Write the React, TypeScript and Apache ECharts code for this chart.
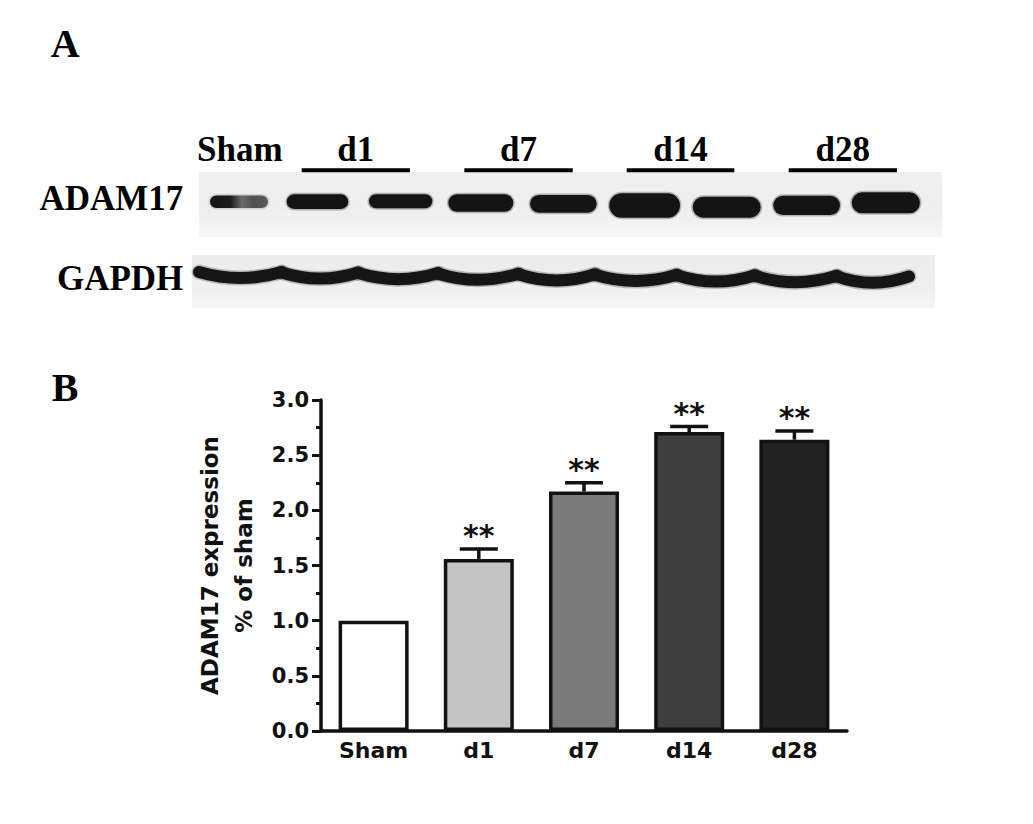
import React, { useEffect, useRef } from "react";
import * as echarts from "echarts";

// ---------- Panel B data ----------
const categories = ["Sham", "d1", "d7", "d14", "d28"];
const expression = [1.0, 1.56, 2.17, 2.71, 2.64];
const sem = [0, 0.09, 0.08, 0.05, 0.08];
const significance = ["", "**", "**", "**", "**"];
const barColors = ["#ffffff", "#c4c4c4", "#7a7a7a", "#3e3e3e", "#222222"];
const yMin = 0;
const yMax = 3;
const yInterval = 0.5;

// ---------- Panel A (blot) labels ----------
const blotRows = ["ADAM17", "GAPDH"];
const laneGroups = ["d1", "d7", "d14", "d28"];

// blot layout (image geometry, not data)
const groupBars = [
  [301.7, 410],
  [464.3, 572.7],
  [626.7, 734.3],
  [788.7, 897],
];
const adamBands = [
  [210, 268, 195.5, 208],
  [286.7, 348.3, 194.3, 209],
  [369, 432.3, 194.3, 208.3],
  [448.3, 513.3, 194.3, 211.7],
  [530, 596.7, 195, 212.7],
  [609.3, 680, 193.3, 217.7],
  [692.7, 760.7, 196.7, 217.7],
  [773.3, 840, 195.7, 215],
  [851.7, 920, 192.3, 213.3],
];
const gapdhBounds = [199, 281.7, 358.3, 438.3, 518.3, 595, 676.7, 755, 836.7, 909];

const SERIF = "'Liberation Serif', 'Times New Roman', serif";
const SANS = "'DejaVu Sans', Arial, sans-serif";

function serifText(text: string, x: number, y: number, size: number, align: string) {
  return {
    type: "text",
    x,
    y,
    z: 20,
    silent: true,
    style: {
      text,
      font: `bold ${size}px ${SERIF}`,
      fill: "#000",
      textAlign: align,
      align,
      textVerticalAlign: "middle",
      verticalAlign: "middle",
    },
  };
}

function buildBlotGraphics() {
  const els: any[] = [];
  // panel letters
  els.push(serifText("A", 50.7, 43.3, 40, "left"));
  els.push(serifText("B", 51.7, 387.3, 40, "left"));
  // blot backgrounds
  els.push({
    type: "rect",
    z: 1,
    silent: true,
    shape: { x: 199, y: 172, width: 743, height: 65 },
    style: {
      fill: new echarts.graphic.LinearGradient(0, 0, 0, 1, [
        { offset: 0, color: "#efefef" },
        { offset: 0.6, color: "#eeeeee" },
        { offset: 1, color: "#f7f7f7" },
      ]),
    },
  });
  els.push({
    type: "rect",
    z: 1,
    silent: true,
    shape: { x: 192, y: 255, width: 743, height: 53 },
    style: {
      fill: new echarts.graphic.LinearGradient(0, 0, 0, 1, [
        { offset: 0, color: "#ececec" },
        { offset: 0.6, color: "#efefef" },
        { offset: 1, color: "#f6f6f6" },
      ]),
    },
  });
  // row labels
  els.push(serifText(blotRows[0], 183.3, 198.7, 35, "right"));
  els.push(serifText(blotRows[1], 183.3, 278.3, 35, "right"));
  // lane header
  els.push(serifText("Sham", 197, 149.5, 35, "left"));
  laneGroups.forEach((g, i) => {
    const [a, b] = groupBars[i];
    els.push(serifText(g, (a + b) / 2, 149.5, 35, "center"));
    els.push({
      type: "rect",
      z: 10,
      silent: true,
      shape: { x: a, y: 168.3, width: b - a, height: 4 },
      style: { fill: "#000" },
    });
  });
  // ADAM17 bands: soft halo + dark core
  adamBands.forEach(([x0, x1, y0, y1], i) => {
    const h = y1 - y0;
    els.push({
      type: "rect",
      z: 4,
      silent: true,
      shape: { x: x0 - 1.5, y: y0 - 1.5, width: x1 - x0 + 3, height: h + 3, r: (h + 3) / 2 },
      style: { fill: i === 0 ? "rgba(0,0,0,0.12)" : "rgba(0,0,0,0.25)" },
    });
    const fill =
      i === 0
        ? new echarts.graphic.LinearGradient(0, 0, 1, 0, [
            { offset: 0, color: "#151515" },
            { offset: 0.35, color: "#1c1c1c" },
            { offset: 0.55, color: "#6a6a6a" },
            { offset: 0.75, color: "#4e4e4e" },
            { offset: 1, color: "#5a5a5a" },
          ])
        : "#141414";
    els.push({
      type: "rect",
      z: 5,
      silent: true,
      shape: { x: x0, y: y0, width: x1 - x0, height: h, r: h / 2 },
      style: { fill },
    });
  });
  // GAPDH band (arched lane segments)
  for (let i = 0; i < gapdhBounds.length - 1; i++) {
    const x1 = gapdhBounds[i];
    const x2 = gapdhBounds[i + 1];
    const endY = 272 + i * 0.55;
    const midY = 278 + i * 0.6;
    const shape = { x1, y1: endY, x2, y2: endY, cpx1: (x1 + x2) / 2, cpy1: 2 * midY - endY };
    els.push({
      type: "bezierCurve",
      z: 4,
      silent: true,
      shape,
      style: { stroke: "rgba(0,0,0,0.22)", lineWidth: 15, lineCap: "round", fill: null },
    });
    els.push({
      type: "bezierCurve",
      z: 5,
      silent: true,
      shape,
      style: { stroke: "#151515", lineWidth: 12, lineCap: "round", fill: null },
    });
  }
  return els;
}

export default function App() {
  const ref = useRef<HTMLDivElement>(null);
  useEffect(() => {
    const chart = echarts.init(ref.current!, null, { renderer: "svg" });
    const option: any = {
      animation: false,
      backgroundColor: "#ffffff",
      graphic: { elements: buildBlotGraphics() },
      grid: { left: 321, top: 400, width: 526, height: 331, containLabel: false },
      xAxis: {
        type: "category",
        data: categories,
        axisLine: { show: true, lineStyle: { color: "#111", width: 3.5 } },
        axisTick: { show: false },
        axisLabel: {
          color: "#111",
          fontFamily: SANS,
          fontWeight: "bold",
          fontSize: 22,
          margin: 8,
        },
        splitLine: { show: false },
      },
      yAxis: {
        type: "value",
        min: yMin,
        max: yMax,
        interval: yInterval,
        name: "ADAM17 expression\n% of sham",
        nameLocation: "middle",
        nameRotate: 90,
        nameGap: 60,
        nameTextStyle: {
          color: "#111",
          fontFamily: SANS,
          fontWeight: "bold",
          fontSize: 23,
          lineHeight: 34,
        },
        axisLine: { show: true, lineStyle: { color: "#111", width: 3.5 } },
        axisTick: { show: true, length: 9, lineStyle: { color: "#111", width: 3 } },
        minorTick: { show: true, splitNumber: 2, length: 5, lineStyle: { color: "#111", width: 3 } },
        axisLabel: {
          color: "#111",
          fontFamily: SANS,
          fontWeight: "bold",
          fontSize: 21,
          margin: 12,
          formatter: (v: number) => v.toFixed(1),
        },
        splitLine: { show: false },
        minorSplitLine: { show: false },
      },
      series: [
        {
          type: "bar",
          barWidth: 70,
          data: expression.map((v, i) => ({ value: v, itemStyle: { color: barColors[i] } })),
          itemStyle: { borderColor: "#111", borderWidth: 3.5 },
          z: 2,
        },
        {
          type: "custom",
          z: 5,
          data: expression.map((v, i) => [i, v, sem[i]]),
          renderItem: (params: any, api: any) => {
            const i = api.value(0);
            const v = api.value(1);
            const e = api.value(2);
            const top = api.coord([i, v]);
            const hi = api.coord([i, v + e]);
            const children: any[] = [];
            const capHalf = 19;
            if (e > 0) {
              children.push({
                type: "line",
                shape: { x1: top[0], y1: top[1], x2: hi[0], y2: hi[1] },
                style: { stroke: "#111", lineWidth: 3.5 },
              });
              children.push({
                type: "line",
                shape: { x1: hi[0] - capHalf, y1: hi[1], x2: hi[0] + capHalf, y2: hi[1] },
                style: { stroke: "#111", lineWidth: 3.5 },
              });
            }
            const sig = significance[params.dataIndex];
            if (sig) {
              children.push({
                type: "text",
                x: hi[0],
                y: hi[1] - 13,
                style: {
                  text: sig,
                  font: `bold 30px ${SANS}`,
                  fill: "#111",
                  textAlign: "center",
                  align: "center",
                  textVerticalAlign: "middle",
                  verticalAlign: "middle",
                },
              });
            }
            return { type: "group", children };
          },
        },
      ],
    };
    chart.setOption(option);
    return () => chart.dispose();
  }, []);
  return (
    <div
      ref={ref}
      style={{ position: "fixed", left: 0, top: 0, width: 1033, height: 824, background: "#fff" }}
    />
  );
}
